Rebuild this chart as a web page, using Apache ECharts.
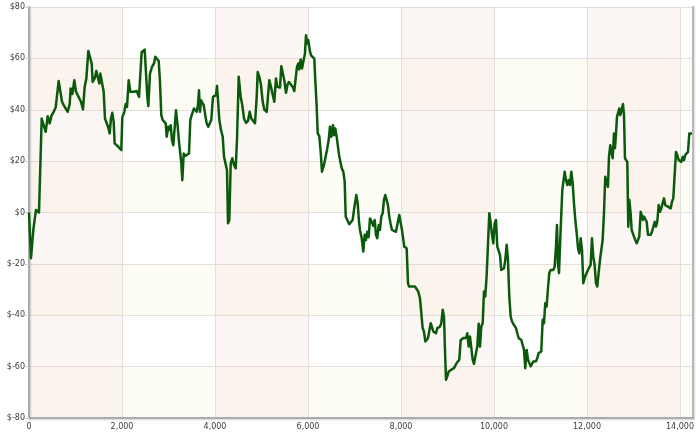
<!DOCTYPE html>
<html>
<head>
<meta charset="utf-8">
<script src="https://cdn.jsdelivr.net/npm/echarts@6/dist/echarts.min.js"></script>
<style>
html,body{margin:0;padding:0;background:#fff;}
#chart{width:700px;height:434px;}
</style>
</head>
<body>
<div id="chart"></div>
<script>
// Trade number (x) vs cumulative profit in $ (y)
const xTicks = [0, 2000, 4000, 6000, 8000, 10000, 12000, 14000];
const yTicks = [-80, -60, -40, -20, 0, 20, 40, 60, 80];

const equityA = [[0,0],[43,-17.8],[93,-6.8],[150,1],[215,0],[273,36.6],[308,37.2],[359,31.4],[402,37.5],[445,34.7],[488,37.9],[531,39.2],[574,40.9],[602,40.5],[638,51.2],[674,51.5],[710,43.1],[746,41.8],[789,41.4],[832,39.2],[875,42.2],[896,48.3],[932,46.1],[975,51.5],[1011,47],[1047,45.7],[1082,46.1],[1118,43.1],[1161,40.1],[1197,48.9],[1233,52.2],[1276,62.9],[1312,62.9],[1348,58],[1369,50.8],[1412,52.2],[1448,55.1],[1477,52.8],[1513,50.2],[1534,54.1],[1577,53.5],[1606,47],[1634,36.6],[1677,36],[1699,33.4],[1735,30.8],[1763,36.6],[1792,38.8],[1821,35.3],[1842,26.9],[1878,26.2],[1921,25.6],[1957,25],[1985,24.3],[2007,37],[2050,39.2],[2079,42.2],[2108,41.1],[2144,51.5],[2179,47],[2222,47.6],[2265,47],[2316,47.3],[2366,45],[2401,45.7]];

const equityB = [[2423,62.5],[2459,62.5],[2488,63.4],[2516,63.2],[2545,45],[2566,41.4],[2602,54.1],[2645,56.7],[2688,58],[2717,60.6],[2760,60.8],[2789,59],[2817,50.8],[2845,37.9],[2875,36],[2903,36.6],[2940,34.7],[2961,29.5],[2996,33.4],[3026,32.1],[3047,34],[3075,28.2],[3104,26.2],[3133,26.9],[3161,39.8],[3198,33.4],[3226,27.5],[3254,26.9],[3276,19.1],[3297,12.6],[3327,23],[3361,22],[3404,22.4],[3441,23],[3469,36],[3499,37.9],[3527,37.5],[3548,40.5],[3585,40.9],[3606,39.2],[3634,41.8],[3656,47.6],[3677,39.2],[3699,43.7],[3727,43.1],[3757,41.8],[3791,37.9],[3821,34.7],[3856,33.4],[3892,34],[3920,36],[3957,45],[3993,44.4],[4022,45.7],[4043,49.2],[4065,43.7],[4093,36],[4129,32.1],[4166,29.5],[4194,21.7],[4230,21.1],[4258,16.5],[4280,-4.2],[4308,-2.9],[4338,19.1],[4372,21.1],[4409,18.5],[4445,17.2],[4473,28.2],[4510,52.8],[4553,45],[4587,41.8],[4624,36.6],[4667,34.9],[4710,35.7],[4746,39.2],[4781,36.6],[4824,37]];

const equityC = [[4860,34.7],[4897,45],[4918,54.7],[4953,52.8],[4989,49.6],[5026,43.1],[5060,40.1],[5112,39.2],[5140,39.2],[5168,51.5],[5204,48.9],[5232,49.6],[5275,43.1],[5312,52.2],[5340,48.9],[5370,48.3],[5398,48.7],[5426,56.9],[5456,57.6],[5490,51.5],[5527,46.6],[5563,50],[5591,50.8],[5634,50.5],[5671,48.9],[5705,47.3],[5735,47],[5763,56.7],[5791,58],[5813,55.7],[5843,59.6],[5871,56.1],[5908,55.7],[5935,61.9],[5957,69],[5985,65.8],[6007,67.1],[6037,63.2],[6065,61.2],[6101,60.8],[6136,59.9],[6157,51.5],[6187,41.1],[6209,30.8],[6243,29.7],[6273,23.6],[6301,15.9],[6344,18.5],[6380,19.1],[6415,25],[6445,28.2],[6473,33.4],[6501,29.5],[6538,34],[6559,30.1],[6587,32.7],[6617,29.5],[6645,28.8],[6667,22.4],[6695,21.7],[6725,17.2],[6759,15.9],[6789,12],[6811,-1.6],[6845,-2.9],[6888,-4.6],[6925,-4.6],[6961,-2.9],[6989,1],[7011,0.3],[7039,6.8],[7069,3.6],[7097,-3.6]];

const equityD = [[7118,-6.8],[7155,-10],[7189,-15.2],[7219,-8.7],[7247,-10.7],[7275,-7.5],[7305,-9.6],[7333,-2.3],[7370,-3.6],[7404,-5.2],[7434,-2.9],[7462,-8.7],[7490,-10],[7520,-4.9],[7548,-6.8],[7576,-1.6],[7606,-0.3],[7634,4.9],[7662,6.8],[7692,6.1],[7720,2.9],[7748,-1.6],[7778,-4.5],[7806,-6.8],[7849,-7.5],[7892,-7.5],[7935,-6.8],[7963,-1],[7993,-0.6],[8021,-6.8],[8049,-6.1],[8071,-13.3],[8101,-12.6],[8122,-13.9],[8151,-27.5],[8172,-28.8],[8200,-28.2],[8230,-28.8],[8265,-28.2],[8301,-28.8],[8338,-28.8],[8372,-30.8],[8408,-33.4],[8437,-39.2],[8466,-45],[8494,-46.3],[8523,-50.2],[8553,-50.8],[8581,-48.9],[8609,-48.9],[8639,-43.1],[8667,-43.7],[8695,-46.3],[8725,-46.7],[8753,-47],[8781,-45],[8810,-44.4],[8839,-44.4],[8867,-43.1],[8897,-37.9],[8925,-40.5],[8946,-53.5],[8968,-65.1],[8996,-63.8],[9026,-61.9],[9054,-62.5],[9082,-61.2],[9112,-61.9],[9140,-60.6],[9168,-59.9],[9198,-58.6],[9226,-59.3],[9254,-57.3],[9284,-49.6],[9312,-49.6],[9340,-48.9],[9370,-49.6],[9398,-48.9],[9426,-47],[9456,-52.2],[9484,-48.3]];

const equityE = [[9512,-48.3],[9542,-57.3],[9570,-58.9],[9606,-58.9],[9641,-52.2],[9671,-43.3],[9699,-52.2],[9727,-44.4],[9757,-43.1],[9785,-30.8],[9813,-32.7],[9843,-24.3],[9871,-23.6],[9899,-0.3],[9929,-4.2],[9957,-8.7],[9985,-12],[10015,-4.2],[10043,-2.9],[10071,-13.3],[10101,-13.3],[10129,-16.5],[10157,-22.4],[10187,-23],[10215,-21.7],[10243,-18.5],[10273,-12.6],[10301,-18.5],[10329,-32.7],[10359,-40.5],[10387,-42.4],[10415,-43.3],[10445,-43.7],[10473,-45],[10501,-47],[10531,-48.9],[10559,-49.6],[10587,-49.6],[10617,-50.2],[10645,-53.5],[10673,-60.6],[10703,-53.5],[10731,-57.3],[10759,-57.3],[10789,-59.9],[10817,-60.6],[10845,-58],[10875,-57.3],[10903,-57.9],[10931,-56.7],[10961,-54.7],[10989,-55.4],[11017,-54.1],[11047,-41.8],[11075,-43.1],[11103,-35.3],[11133,-36.6],[11161,-29.5],[11189,-23.6],[11219,-22.4],[11247,-22.1],[11275,-22.4],[11305,-21.1],[11333,-13.3],[11355,-4.9],[11376,-19.7],[11398,-23.6],[11419,-13.3],[11448,-0.3],[11469,8.7],[11491,8.1],[11520,15.9],[11548,12.6],[11577,10.7],[11606,12.6],[11634,10.7],[11663,15.9],[11693,11.3],[11720,3.6],[11749,-2.9],[11779,-8.1],[11807,-13.9],[11835,-15.9],[11865,-10],[11893,-14.6],[11921,-27.5],[11948,-25.6],[11975,-24.3]];

const equityF = [[11993,-23.6],[12021,-22.4],[12049,-22.4],[12079,-20.4],[12107,-10],[12135,-17.2],[12165,-20.4],[12193,-27.5],[12221,-28.8],[12251,-29.5],[12279,-18.5],[12307,-18.5],[12337,-10.7],[12365,-0.3],[12393,13.9],[12423,13.9],[12451,10],[12473,21.7],[12501,26.2],[12531,25.6],[12553,21.1],[12581,30.8],[12602,25],[12624,30.8],[12645,37.2],[12673,37.9],[12695,40.5],[12716,37.9],[12746,39.8],[12774,42.2],[12796,37.9],[12817,21.1],[12845,20.4],[12867,19.7],[12888,-5.5],[12910,4.9],[12939,-0.3],[12961,-6.8],[12983,-7.5],[13011,-9.4],[13039,-10.7],[13069,-12],[13097,-12],[13125,-9.4],[13155,0.3],[13183,1],[13204,-2.9],[13226,-1.6],[13254,-2.3],[13284,-3.6],[13312,-8.7],[13340,-8.7],[13370,-8.7],[13398,-7.5],[13426,-6.8],[13456,-3.6],[13484,-5.5],[13512,-3.6],[13542,2.9],[13570,0.3],[13598,1.6],[13628,2.3],[13656,5.5],[13684,2.9],[13714,2.9],[13742,2.3],[13770,2.9],[13800,1.6],[13828,4.2],[13856,5.5],[13886,5.5],[13914,23.6],[13942,22.4],[13972,20.4],[14000,21.1],[14028,19.7],[14058,21.7],[14086,20.4],[14114,22.4],[14144,23],[14172,23.6],[14201,30.8],[14230,31.4],[14258,30.8]];

const xMax = 14280;
const equity = [].concat(equityA, equityB, equityC, equityD, equityE, equityF);

const fmtX = v => String(v).replace(/\B(?=(\d{3})+(?!\d))/g, ',');
const fmtY = v => '$' + v;

const chart = echarts.init(document.getElementById('chart'), null, {renderer: 'canvas'});
const labelFont = {fontFamily: 'DejaVu Sans', fontSize: 8, color: '#3c3c3c'};
const axisGray = {color: '#ababab', width: 2, shadowColor: 'rgba(0,0,0,0.18)', shadowBlur: 2, shadowOffsetX: 1, shadowOffsetY: 1};

chart.setOption({
  animation: false,
  backgroundColor: '#ffffff',
  grid: {left: 29, right: 7, top: 7, bottom: 16, containLabel: false},
  xAxis: {
    type: 'value', min: xTicks[0], max: xMax, interval: 2000,
    axisLine: {show: true, onZero: false, lineStyle: axisGray},
    axisTick: {show: false},
    axisLabel: Object.assign({margin: 5, showMaxLabel: false, formatter: fmtX}, labelFont),
    splitLine: {show: true, lineStyle: {color: '#e4dfdc', width: 1}},
    splitArea: {show: true, areaStyle: {color: ['rgba(232,180,160,0.11)', 'rgba(255,255,255,0)']}}
  },
  yAxis: [{
    type: 'value', min: yTicks[0], max: yTicks[yTicks.length - 1], interval: 20,
    axisLine: {show: true, onZero: false, lineStyle: axisGray},
    axisTick: {show: true, length: 4, lineStyle: {color: '#d0d0d0'}},
    axisLabel: Object.assign({margin: 4, formatter: fmtY}, labelFont),
    splitLine: {show: true, lineStyle: {color: '#e4dfdc', width: 1}},
    splitArea: {show: true, areaStyle: {color: ['rgba(238,232,170,0.12)', 'rgba(255,255,255,0)']}}
  }, {
    type: 'value', position: 'right', min: yTicks[0], max: yTicks[yTicks.length - 1], interval: 20,
    axisLine: {show: true, onZero: false, lineStyle: {color: '#b8b8b8', width: 2, shadowColor: 'rgba(0,0,0,0.15)', shadowBlur: 2, shadowOffsetX: 1}},
    axisTick: {show: false}, axisLabel: {show: false}, splitLine: {show: false}
  }],
  series: [{
    type: 'line',
    data: equity,
    showSymbol: false,
    symbol: 'none',
    lineStyle: {color: '#0b590b', width: 2.5, join: 'round'},
    z: 5
  }]
});
</script>
</body>
</html>
